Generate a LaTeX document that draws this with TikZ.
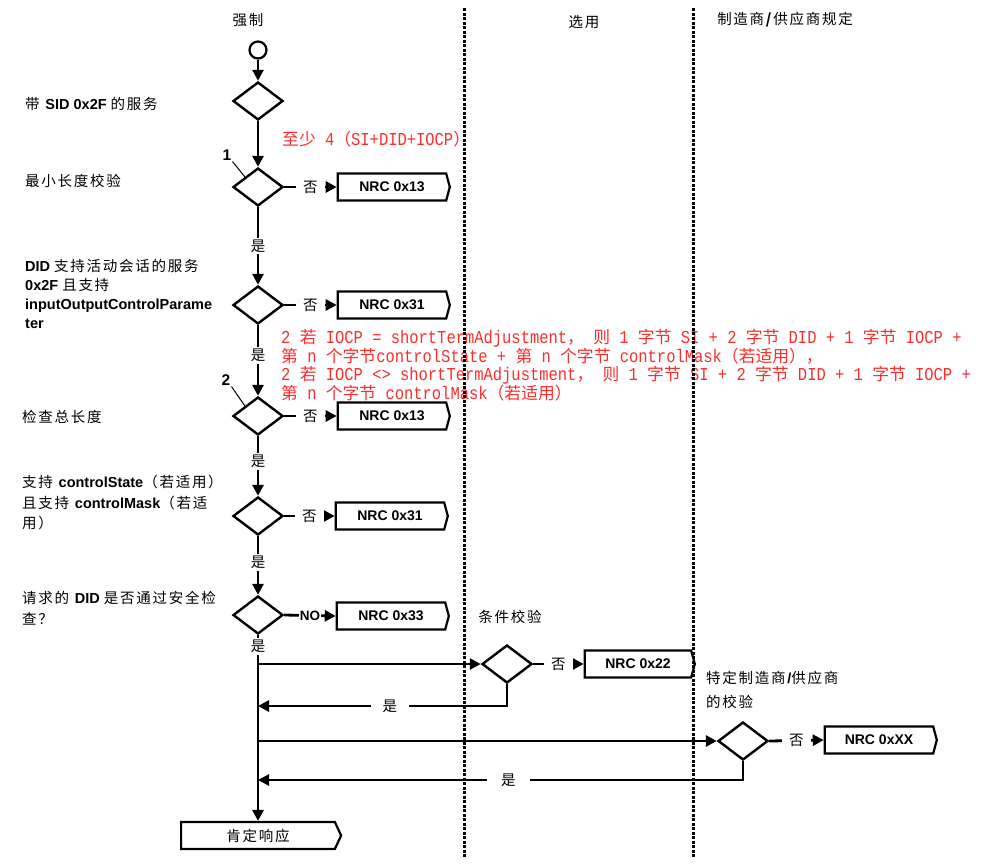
\documentclass[tikz,border=0pt]{standalone}
\usepackage{fontspec}
\setmainfont{Liberation Sans}
\newfontfamily\cjk[LetterSpace=12]{Noto Sans CJK SC}
\newfontfamily\cjkr{Noto Sans CJK SC}
\newfontfamily\monor[FakeStretch=0.85]{Liberation Mono}
\usetikzlibrary{arrows.meta,shapes.geometric,shapes.symbols,calc}
\definecolor{redtxt}{RGB}{250,45,45}
\newcommand\zh[1]{{\cjk #1}}
\newcommand\Zr[1]{{\cjkr\fontsize{16.8}{18}\selectfont #1}}
\newcommand\Rm[1]{{\monor\fontsize{18.2}{18}\selectfont #1}}
\tikzset{
 flow/.style={line width=2.8pt, -{Triangle[length=11pt,width=11pt]}},
 dia/.style={diamond, draw, line width=2.4pt, minimum width=50pt, minimum height=38pt, inner sep=0pt},
 nrc/.style={signal, signal to=east, signal from=nowhere, signal pointer angle=150, draw, line width=2.2pt, minimum width=112pt, minimum height=27pt, inner sep=0pt, font=\bfseries\fontsize{14}{16}\selectfont},
 lbl/.style={fill=white, inner xsep=7pt, inner ysep=2pt, font=\fontsize{14.5}{16}\selectfont\cjk},
 lane/.style={line width=3pt, dash pattern=on 3.2pt off 1.3pt},
 desc/.style={anchor=west, align=left, inner sep=0pt, font=\fontsize{14.5}{20}\selectfont},
 head/.style={font=\fontsize{14.5}{16}\selectfont\cjk},
 num/.style={font=\bfseries\fontsize{15.5}{16}\selectfont, inner sep=1pt},
 leader/.style={line width=1pt},
 redt/.style={text=redtxt, align=left, inner sep=0pt, font=\fontsize{16.8}{18}\selectfont},
}
\begin{document}
\begin{tikzpicture}[x=1pt,y=-1pt]
\useasboundingbox (0,0) rectangle (990,865);
% headers
\node[head] (h1) at (248,20) {强制};
\node[head] (h2) at (584,22) {选用};
\node[head] (h3) at (785,20) {\zh{制造商}\textbf{/}\zh{供应商规定}};
% left descriptions
\node[desc] (l1) at (25,104) {\zh{带} \textbf{SID 0x2F} \zh{的服务}};
\node[desc] (l2) at (25,181) {\zh{最小长度校验}};
\node[desc, font=\fontsize{14.5}{19}\selectfont] (l3) at (25,293.5) {\textbf{DID} \zh{支持活动会话的服务}\\\textbf{0x2F} \zh{且支持}\\\textbf{inputOutputControlParame}\\\textbf{ter}};
\node[desc] (l4) at (22,417) {\zh{检查总长度}};
\node[desc, font=\fontsize{14.5}{20.5}\selectfont] (l5) at (22,502.5) {\zh{支持} \textbf{controlState}\zh{（若适用）}\\\zh{且支持} \textbf{controlMask}\zh{（若适}\\\zh{用）}};
\node[desc, font=\fontsize{14.5}{21}\selectfont] (l6) at (22,608.5) {\zh{请求的} \textbf{DID} \zh{是否通过安全检}\\\zh{查？}};
\node[desc, font=\fontsize{14.5}{24}\selectfont] (l7) at (706,690) {\zh{特定制造商}\textbf{/}\zh{供应商}\\\zh{的校验}};
\node[head] (l8) at (510,617) {条件校验};
% red notes
\node[redt, anchor=west] (r1) at (282,139) {\Zr{至少}\Rm{ 4}\Zr{（}\Rm{SI+DID+IOCP}\Zr{）}};
\node[redt, anchor=north west] (r2) at (281,329) {\Rm{2 }\Zr{若}\Rm{ IOCP = shortTermAdjustment}\Zr{，}\Rm{ }\Zr{则}\Rm{ 1 }\Zr{字节}\Rm{ SI + 2 }\Zr{字节}\Rm{ DID + 1 }\Zr{字节}\Rm{ IOCP +}\\
\Zr{第}\Rm{ n }\Zr{个字节}\Rm{controlState + }\Zr{第}\Rm{ n }\Zr{个字节}\Rm{ controlMask}\Zr{（若适用），}\\
\Rm{2 }\Zr{若}\Rm{ IOCP <> shortTermAdjustment}\Zr{，}\Rm{ }\Zr{则}\Rm{ 1 }\Zr{字节}\Rm{ SI + 2 }\Zr{字节}\Rm{ DID + 1 }\Zr{字节}\Rm{ IOCP +}\\
\Zr{第}\Rm{ n }\Zr{个字节}\Rm{ controlMask}\Zr{（若适用）}};
% lanes
\coordinate (lt1) at (464,8); \coordinate (lb1) at (464,858);
\coordinate (lt2) at (693,8); \coordinate (lb2) at (693,858);
\draw[lane] (lt1) -- (lb1);
\draw[lane] (lt2) -- (lb2);
% main nodes
\node[circle, draw, line width=2.2pt, minimum size=17pt, inner sep=0pt] (start) at (258,50) {};
\node[dia] (d1) at (258,101) {};
\node[dia] (d2) at (258,187) {};
\node[dia] (d3) at (258,305) {};
\node[dia] (d4) at (258,416) {};
\node[dia] (d5) at (258,516) {};
\node[dia] (d6) at (258,615) {};
\node[dia] (d7) at (507,664) {};
\node[dia] (d8) at (743,741) {};
\node[nrc] (b2) at (392,187) {NRC 0x13};
\node[nrc] (b3) at (392,305) {NRC 0x31};
\node[nrc] (b4) at (392,416) {NRC 0x13};
\node[nrc] (b5) at (390,516) {NRC 0x31};
\node[nrc] (b6) at (391,616) {NRC 0x33};
\node[nrc, minimum width=110pt] (b7) at (638,664) {NRC 0x22};
\node[nrc] (b8) at (879,740) {NRC 0xXX};
\node[nrc, minimum width=160pt, signal pointer angle=130, font=\fontsize{14.5}{16}\selectfont\cjk] (pos) at (258,835.5) {肯定响应};
\node[num] (n1) at (227,155) {1};
\node[num] (n2) at (226,380) {2};
\draw[leader] (n1.south east) -- ($(d2.west)!0.5!(d2.north)$);
\draw[leader] (n2.south east) -- ($(d4.west)!0.5!(d4.north)$);
% connectors
\coordinate (j1) at (258,706);
\coordinate (j2) at (258,780);
\draw[flow] (start) -- (d1);
\draw[flow] (d1) -- (d2);
\draw[flow] (d2) -- node[lbl]{是} (d3);
\draw[flow] (d3) -- node[lbl,pos=0.43]{是} (d4);
\draw[flow] (d4) -- node[lbl,pos=0.42]{是} (d5);
\draw[flow] (d5) -- node[lbl,pos=0.45]{是} (d6);
\draw[flow] (d6.south) -- node[lbl,pos=0.06]{是} (d6.south |- pos.north);
\draw[flow] (d2.east) -- node[lbl]{否} (b2.west);
\draw[flow] (d3.east) -- node[lbl]{否} (b3.west);
\draw[flow] (d4.east) -- node[lbl]{否} (b4.west);
\draw[flow] (d5.east) -- node[lbl]{否} (b5.west);
\draw[flow] (d6.east) -- node[fill=white, inner sep=1pt, font=\bfseries\fontsize{13.5}{15}\selectfont]{NO} (b6.west);
\draw[flow] (d6.south |- d7.west) -- (d7.west);
\draw[flow] (d7.east) -- node[lbl]{否} (b7.west);
\draw[flow] (d7.south) |- node[lbl, inner xsep=12pt, pos=0.735]{是} (j1);
\draw[flow] (d6.south |- d8.west) -- (d8.west);
\draw[flow] (d8.east) -- node[lbl]{否} (b8.west);
\draw[flow] (d8.south) |- node[lbl, inner xsep=14pt, pos=0.742]{是} (j2);
\end{tikzpicture}
\end{document}
